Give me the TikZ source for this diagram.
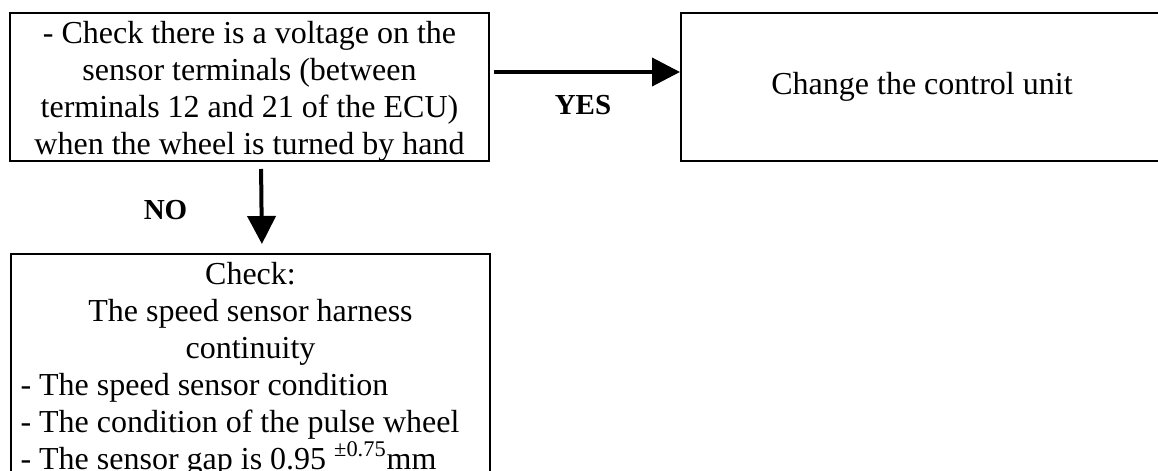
\documentclass[tikz,border=0pt]{standalone}
\usepackage{fontspec}
\setmainfont{Liberation Serif}
\usepackage{tikz}
\usetikzlibrary{arrows.meta, positioning}
\setlength{\parindent}{0pt}

\begin{document}
\begin{tikzpicture}[
    x=0.5pt, y=-0.5pt,
    box/.style={rectangle, draw=black, line width=1pt, align=center, inner sep=0pt, font=\fontsize{16}{18.5}\selectfont},
    lbl/.style={font=\fontsize{14.5}{17}\selectfont\bfseries},
    arr/.style={-{Triangle[length=14pt, width=14pt]}, line width=2pt, color=black}
]
\useasboundingbox (0,0) rectangle (1158,471);

\node[box, minimum width=239.5pt, minimum height=74pt] (chk) at (249.5,87) {\rule{0pt}{15pt}- Check there is a voltage on the\\sensor terminals (between\\terminals 12 and 21 of the ECU)\\when the wheel is turned by hand};
\node[box, minimum width=241pt, minimum height=74pt] (ecu) at (922,87) {Change the control unit};
\node[box, anchor=north west, align=flush left, text width=230pt, inner xsep=4.75pt, inner ysep=4pt] (gap) at (10,253) {{\centering Check:\par The speed sensor harness\par continuity\par}- The speed sensor condition\par - The condition of the pulse wheel\par - The sensor gap is 0.95 \textsuperscript{±0.75}mm\par\vspace{2pt}};

\draw[arr, shorten <=2pt] ([yshift=7.5pt]chk.east) -- node[lbl, xshift=-1pt, yshift=-16.75pt] {YES} ([yshift=7.5pt]ecu.west);
\draw[arr, shorten <=3.5pt, shorten >=4.5pt] ([xshift=5.75pt]chk.south) -- node[lbl, xshift=-48pt, yshift=-1.5pt] {NO} ([xshift=5.75pt]gap.north);

\end{tikzpicture}
\end{document}
